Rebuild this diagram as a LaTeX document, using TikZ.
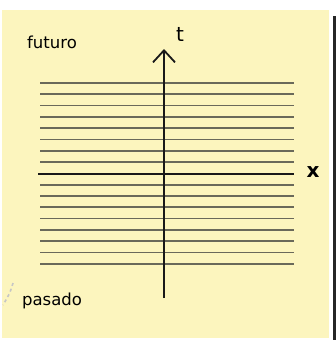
\documentclass[tikz,border=0pt]{standalone}
\usepackage{fontspec}
\setmainfont{DejaVu Sans}
\usepackage{tikz}
\usetikzlibrary{arrows.meta, positioning, calc}
\definecolor{paperyellow}{RGB}{252, 245, 190}
\definecolor{lineshade}{RGB}{70, 70, 65}

\begin{document}
\begin{tikzpicture}[x=1pt, y=-1pt,
    label/.style={font=\fontsize{16.5}{18}\selectfont, anchor=base, inner sep=0pt},
    axislabel/.style={font=\fontsize{20}{22}\selectfont, anchor=base, inner sep=0pt},
    worldline/.style={lineshade, line width=1.7pt, opacity=0.8},
    axis/.style={black!90, line width=2pt}]
        \useasboundingbox (0,0) rectangle (336,340);
        % Paper
        \fill[paperyellow] (2,10) rectangle (329,338);
        \fill[black!85] (333,16) rectangle (336,340);
        % Slices of constant time
        \foreach \i in {0,...,16}{
          \ifnum\i=8\else
            \draw[worldline] (40,{83+11.3*\i}) -- (294,{83+11.3*\i});
          \fi
        }
        % Axes
        \coordinate (xstart) at (38,173.5);
        \coordinate (xend) at (294,173.5);
        \coordinate (tstart) at (164,298);
        \coordinate (tend) at (164,49);
        \draw[axis] (xstart) -- (xend);
        \draw[axis, -{Straight Barb[length=12pt, width=22pt, line width=1.8pt]}] (tstart) -- (tend);
        \node[axislabel] (tlabel) at (180,41.5) {t};
        \node[axislabel] (xlabel) at (313,177.5) {\textbf{x}};
        \node[label] (futuro) at (52,48.5) {futuro};
        \node[label] (pasado) at (52,305) {pasado};
        % Faint stroke at the edge
        \draw[gray!45, dashed, line width=1.6pt] (13,283) .. controls (10,293) .. (3,305);
      \end{tikzpicture}
\end{document}
